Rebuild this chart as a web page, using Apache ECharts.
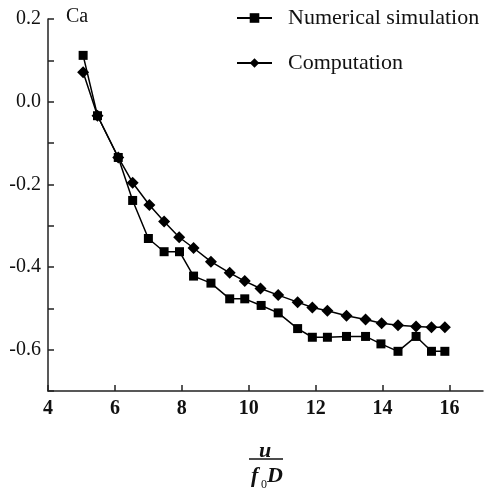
<!DOCTYPE html>
<html>
<head>
<meta charset="utf-8">
<script src="https://cdn.jsdelivr.net/npm/echarts@6/dist/echarts.min.js"></script>
<style>html,body{margin:0;padding:0;background:#fff}#c{width:484px;height:491px}</style>
</head>
<body>
<div id="c"></div>
<script>
// Data
var seriesNames = ['Numerical simulation', 'Computation'];
var xSim = [5.05, 5.48, 6.1, 6.53, 7.0, 7.47, 7.93, 8.35, 8.87, 9.43, 9.88, 10.37, 10.88, 11.46, 11.9, 12.35, 12.92, 13.49, 13.95, 14.46, 15.0, 15.46, 15.86];
var ySim = [0.112, -0.034, -0.135, -0.239, -0.331, -0.363, -0.363, -0.422, -0.439, -0.477, -0.477, -0.493, -0.511, -0.549, -0.57, -0.57, -0.568, -0.568, -0.586, -0.604, -0.568, -0.604, -0.604];
var xComp = [5.05, 5.48, 6.1, 6.53, 7.03, 7.47, 7.92, 8.35, 8.87, 9.43, 9.88, 10.35, 10.88, 11.46, 11.9, 12.35, 12.92, 13.49, 13.97, 14.46, 15.0, 15.46, 15.86];
var yComp = [0.071, -0.034, -0.135, -0.196, -0.25, -0.29, -0.328, -0.354, -0.387, -0.414, -0.434, -0.452, -0.468, -0.485, -0.498, -0.506, -0.518, -0.527, -0.536, -0.541, -0.544, -0.546, -0.546];
var xTicks = [4, 6, 8, 10, 12, 14, 16];
var yLabelTicks = [0.2, 0.0, -0.2, -0.4, -0.6];

function pairs(xs, ys) { return xs.map(function (x, i) { return [x, ys[i]]; }); }

var FONT = '"Liberation Serif", "Times New Roman", serif';
var chart = echarts.init(document.getElementById('c'));
chart.setOption({
  animation: false,
  backgroundColor: '#fff',
  grid: { left: 48, right: 1, top: 19, bottom: 100, containLabel: false },
  legend: {
    orient: 'vertical',
    left: 231,
    top: 1,
    itemWidth: 35,
    itemHeight: 12,
    itemGap: 21,
    data: seriesNames,
    textStyle: { fontFamily: FONT, fontSize: 22, color: '#111', padding: [0, 0, 0, 11], lineHeight: 24 }
  },
  xAxis: {
    type: 'value',
    min: 4,
    max: 17,
    interval: 2,
    splitLine: { show: false },
    axisLine: { onZero: false, lineStyle: { color: '#222', width: 1.5 } },
    axisTick: { inside: true, length: 6, lineStyle: { color: '#222', width: 1.5 }, customValues: xTicks },
    axisLabel: {
      margin: 8,
      fontFamily: FONT, fontSize: 20, fontWeight: 'bold', color: '#111',
      customValues: xTicks,
      formatter: function (v) { return xTicks.indexOf(v) >= 0 ? String(v) : ''; }
    }
  },
  yAxis: {
    type: 'value',
    min: -0.7,
    max: 0.2,
    interval: 0.1,
    splitLine: { show: false },
    axisLine: { onZero: false, lineStyle: { color: '#222', width: 1.5 } },
    axisTick: { inside: true, length: 6, lineStyle: { color: '#222', width: 1.5 } },
    axisLabel: {
      margin: 7,
      fontFamily: FONT, fontSize: 20, color: '#111',
      formatter: function (v) {
        var r = Math.round(v * 10) / 10;
        for (var i = 0; i < yLabelTicks.length; i++) {
          if (Math.abs(yLabelTicks[i] - r) < 1e-6) return r.toFixed(1);
        }
        return '';
      }
    }
  },
  graphic: [
    { type: 'text', left: 66, top: 7, style: { text: 'Ca', font: '20px ' + FONT, fill: '#111' } },
    { type: 'text', left: 259, top: 440, style: { text: 'u', font: 'italic bold 22px ' + FONT, fill: '#111' } },
    { type: 'line', shape: { x1: 249, y1: 459, x2: 283, y2: 459 }, style: { stroke: '#111', lineWidth: 1.5 } },
    { type: 'text', left: 251, top: 465, style: { text: 'f', font: 'italic bold 22px ' + FONT, fill: '#111' } },
    { type: 'text', left: 261, top: 479, style: { text: '0', font: '12px ' + FONT, fill: '#111' } },
    { type: 'text', left: 267, top: 465, style: { text: 'D', font: 'italic bold 22px ' + FONT, fill: '#111' } }
  ],
  series: [
    {
      name: seriesNames[0],
      type: 'line',
      data: pairs(xSim, ySim),
      symbol: 'rect',
      symbolSize: 9,
      lineStyle: { color: '#000', width: 1.5 },
      itemStyle: { color: '#000' }
    },
    {
      name: seriesNames[1],
      type: 'line',
      data: pairs(xComp, yComp),
      symbol: 'diamond',
      symbolSize: 12,
      lineStyle: { color: '#000', width: 1.5 },
      itemStyle: { color: '#000' }
    }
  ]
});
</script>
</body>
</html>
